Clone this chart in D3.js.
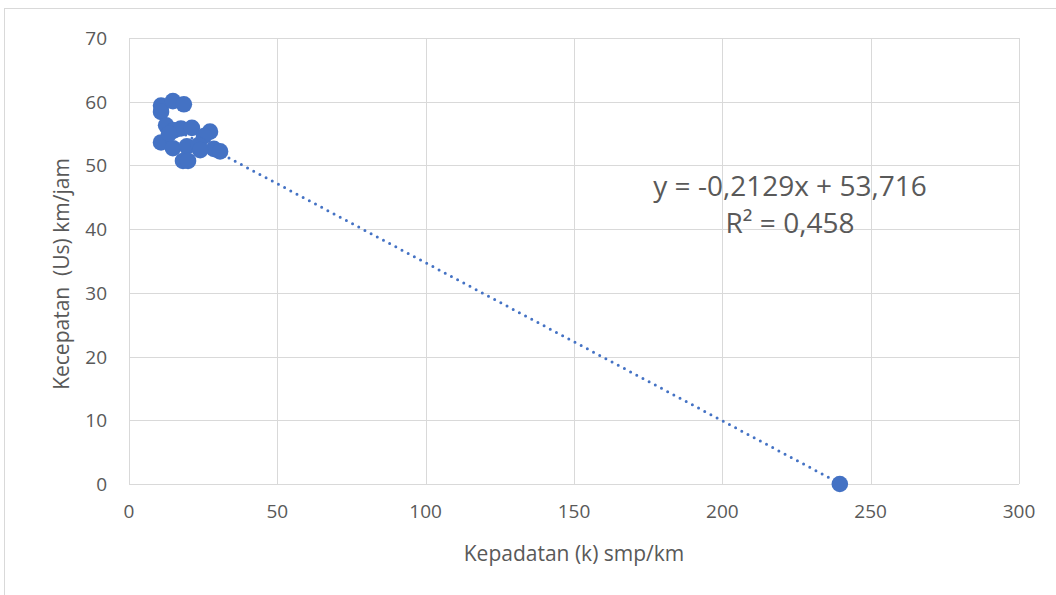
<!DOCTYPE html>
<html lang="en">
<head>
    <meta charset="UTF-8">
    <title>Kecepatan vs Kepadatan</title>
    <style>
        body { margin: 0; background: #fff; }
        text { font-family: "Open Sans", "Noto Sans", sans-serif; fill: #595959; }
        .grid line { stroke: #d9d9d9; stroke-width: 1; }
    </style>
</head>
<body>
<svg id="svg" width="1056" height="595"></svg>
<script src="https://d3js.org/d3.v7.min.js"></script>
<script>
    // density (k) smp/km
    const kepadatan = [10.8, 10.8, 14.8, 18.5, 12.5, 15.2, 17.5, 21.2, 27.3, 25.3,
                       10.8, 14.8, 19.5, 23.5, 18.2, 19.9, 28.6, 30.7, 13.5, 24.0, 239.6];
    // speed (Us) km/jam
    const kecepatan = [59.4, 58.4, 60.1, 59.6, 56.3, 55.5, 55.8, 55.9, 55.3, 54.6,
                       53.6, 52.7, 53.0, 53.2, 50.7, 50.7, 52.6, 52.2, 55.0, 52.4, 0];
    const xTicks = [0, 50, 100, 150, 200, 250, 300];
    const yTicks = [0, 10, 20, 30, 40, 50, 60, 70];
    const eqLabel = "y = -0,2129x + 53,716";
    const r2Label = "R² = 0,458";

    const svg = d3.select("svg");
    const padL = 129, padR = 1019, padT = 38, padB = 484;

    // outer chart border
    svg.append("rect").attr("x", 4.5).attr("y", 8.5).attr("width", 1070).attr("height", 600)
        .attr("fill", "none").attr("stroke", "#d9d9d9");

    const x = d3.scaleLinear().domain([0, 300]).range([padL, padR]);
    const y = d3.scaleLinear().domain([0, 70]).range([padB, padT]);

    const grid = svg.append("g").attr("class", "grid");
    grid.selectAll(".v").data(xTicks).enter().append("line")
        .attr("x1", d => Math.round(x(d)) + 0.5).attr("x2", d => Math.round(x(d)) + 0.5)
        .attr("y1", padT).attr("y2", padB);
    grid.selectAll(".h").data(yTicks).enter().append("line")
        .attr("y1", d => Math.round(y(d)) + 0.5).attr("y2", d => Math.round(y(d)) + 0.5)
        .attr("x1", padL).attr("x2", padR);

    svg.selectAll(".xt").data(xTicks).enter().append("text")
        .attr("x", d => x(d)).attr("y", padB + 34)
        .attr("text-anchor", "middle").style("font-size", "19px").text(d => d);
    svg.selectAll(".yt").data(yTicks).enter().append("text")
        .attr("x", padL - 22).attr("y", d => y(d) + 7)
        .attr("text-anchor", "end").style("font-size", "19px").text(d => d);

    svg.append("text").attr("x", (padL + padR) / 2).attr("y", 561)
        .attr("text-anchor", "middle").style("font-size", "21px").text("Kepadatan (k) smp/km");
    svg.append("text").attr("transform", "translate(69,274) rotate(-90)")
        .attr("text-anchor", "middle").style("font-size", "21px").style("white-space", "pre")
        .text("Kecepatan  (Us) km/jam");

    // least squares trend line over the data range
    const n = kepadatan.length;
    const mx = d3.mean(kepadatan), my = d3.mean(kecepatan);
    let sxy = 0, sxx = 0;
    for (let i = 0; i < n; i++) {
        sxy += (kepadatan[i] - mx) * (kecepatan[i] - my);
        sxx += (kepadatan[i] - mx) * (kepadatan[i] - mx);
    }
    const slope = sxy / sxx, icpt = my - slope * mx;
    const x0 = d3.min(kepadatan), x1 = d3.max(kepadatan);
    svg.append("line")
        .attr("x1", x(x0)).attr("y1", y(slope * x0 + icpt))
        .attr("x2", x(x1)).attr("y2", y(slope * x1 + icpt))
        .attr("stroke", "#4472c4").attr("stroke-width", 3)
        .attr("stroke-dasharray", "0,7").attr("stroke-linecap", "round");

    svg.append("g").selectAll("circle").data(kepadatan).enter().append("circle")
        .attr("cx", (d, i) => x(d)).attr("cy", (d, i) => y(kecepatan[i]))
        .attr("r", 8.3).attr("fill", "#4472c4");

    svg.append("text").attr("x", 790).attr("y", 196).attr("text-anchor", "middle")
        .style("font-size", "28px").text(eqLabel);
    svg.append("text").attr("x", 790).attr("y", 233).attr("text-anchor", "middle")
        .style("font-size", "28px").text(r2Label);
</script>
</body>
</html>
